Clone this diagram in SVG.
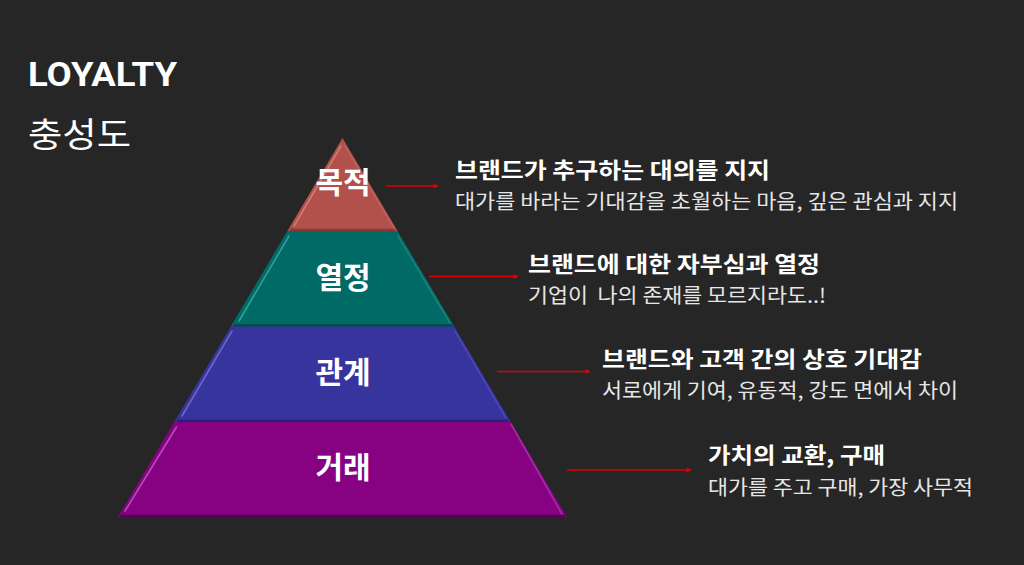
<svg xmlns="http://www.w3.org/2000/svg" width="1024" height="565" viewBox="0 0 1024 565">
<defs>
<style>
.bg{fill:#262626}
.t{font-family:"Noto Sans CJK KR","Noto Sans",sans-serif;fill:#ffffff;white-space:pre}
.lbl{font-size:30px;font-weight:bold;text-anchor:middle}
.h{font-size:22px;font-weight:bold}
.s{font-size:20px;fill:#e6e6e6}
.hl{fill:none;stroke-width:1.6;stroke-linecap:round}
.sh{stroke-width:2.5}
.arr{stroke:#e00000;stroke-width:1.6;fill:none;marker-end:url(#ah)}
</style>
<marker id="ah" viewBox="0 0 10 10" refX="9" refY="5" markerWidth="6" markerHeight="5" orient="auto" markerUnits="userSpaceOnUse">
<path d="M0,0 L10,5 L0,10 z" fill="#e00000"/>
</marker>
</defs>
<rect class="bg" x="0" y="0" width="1024" height="565"/>
<g id="title">
<text class="t" x="28" y="86" textLength="149" lengthAdjust="spacingAndGlyphs" style="font-family:Roboto,'Liberation Sans',sans-serif;font-size:33px;font-weight:bold">LOYALTY</text>
<text class="t" x="28" y="147" textLength="103" lengthAdjust="spacingAndGlyphs" style="font-size:34px">충성도</text>
</g>
<g id="band-purpose">
<polygon points="342.5,138 397.6,231 287.4,231" fill="#b2504b"/>
<line class="sh" x1="290" y1="230" x2="395" y2="230" stroke="#8a3a36"/>
<line class="hl" x1="341" y1="146" x2="294" y2="226" stroke="#d07a74"/>
<line class="hl" x1="345" y1="146" x2="394" y2="228" stroke="#c0605a"/>
<text class="t lbl" x="343" y="193">목적</text>
</g>
<g id="band-passion">
<polygon points="287.4,231 397.6,231 454.2,326.5 230.8,326.5" fill="#006a67"/>
<line class="sh" x1="233" y1="325.5" x2="452" y2="325.5" stroke="#004a48"/>
<line class="hl" x1="289" y1="236" x2="239" y2="321" stroke="#3a9a96"/>
<line class="hl" x1="398" y1="236" x2="450" y2="323" stroke="#1a807c"/>
<text class="t lbl" x="343" y="288">열정</text>
</g>
<g id="band-relation">
<polygon points="230.8,326.5 454.2,326.5 510.7,422 174.3,422" fill="#37349e"/>
<line class="sh" x1="177" y1="421" x2="508" y2="421" stroke="#262370"/>
<line class="hl" x1="232" y1="331" x2="182" y2="416" stroke="#6a66c8"/>
<line class="hl" x1="455" y1="331" x2="506" y2="418" stroke="#4a46b8"/>
<text class="t lbl" x="343" y="383">관계</text>
</g>
<g id="band-transaction">
<polygon points="174.3,422 510.7,422 567,517 118,517" fill="#860283"/>
<line class="sh" x1="120" y1="516" x2="565" y2="516" stroke="#5a0058"/>
<line class="hl" x1="176.5" y1="427" x2="125" y2="511" stroke="#b050b0"/>
<line class="hl" x1="511" y1="424" x2="562" y2="514" stroke="#a030a0"/>
<text class="t lbl" x="343" y="478">거래</text>
</g>
<g id="connectors">
<line class="arr" x1="386" y1="186" x2="438" y2="186"/>
<line class="arr" x1="429" y1="276.5" x2="518" y2="276.5"/>
<line class="arr" x1="497" y1="371.5" x2="590" y2="371.5"/>
<line class="arr" x1="567" y1="470" x2="691" y2="470"/>
</g>
<g id="desc-purpose">
<text class="t h" x="455" y="178" textLength="315" lengthAdjust="spacingAndGlyphs">브랜드가 추구하는 대의를 지지</text>
<text class="t s" x="455" y="209" textLength="503" lengthAdjust="spacingAndGlyphs">대가를 바라는 기대감을 초월하는 마음, 깊은 관심과 지지</text>
</g>
<g id="desc-passion">
<text class="t h" x="528" y="272" textLength="292" lengthAdjust="spacingAndGlyphs">브랜드에 대한 자부심과 열정</text>
<text class="t s" x="528" y="303" textLength="298" lengthAdjust="spacingAndGlyphs" xml:space="preserve">기업이  나의 존재를 모르지라도..!</text>
</g>
<g id="desc-relation">
<text class="t h" x="602" y="367" textLength="320" lengthAdjust="spacingAndGlyphs">브랜드와 고객 간의 상호 기대감</text>
<text class="t s" x="602" y="398" textLength="356" lengthAdjust="spacingAndGlyphs">서로에게 기여, 유동적, 강도 면에서 차이</text>
</g>
<g id="desc-transaction">
<text class="t h" x="708" y="463" textLength="177" lengthAdjust="spacingAndGlyphs">가치의 교환, 구매</text>
<text class="t s" x="708" y="495" textLength="265" lengthAdjust="spacingAndGlyphs">대가를 주고 구매, 가장 사무적</text>
</g>
</svg>
